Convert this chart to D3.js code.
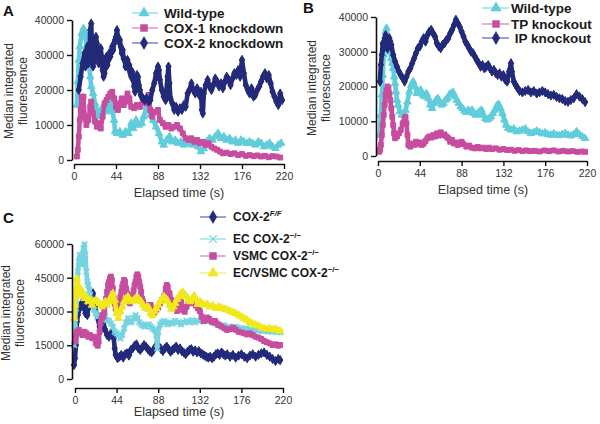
<!DOCTYPE html>
<html><head><meta charset="utf-8">
<script src="https://cdn.jsdelivr.net/npm/d3@7"></script>
<style>
html,body{margin:0;padding:0;background:#fff;}
svg{display:block;font-family:"Liberation Sans",Arial,sans-serif;}
</style></head><body>
<svg id="c" width="600" height="424"></svg>
<script>
// ---------------- DATA ----------------
const xTicks = [0, 44, 88, 132, 176, 220];
const yTicksAB = [0, 10000, 20000, 30000, 40000];
const yTicksC = [0, 15000, 30000, 45000, 60000];
const legendA = ["Wild-type", "COX-1 knockdown", "COX-2 knockdown"];
const legendB = ["Wild-type", "TP knockout", " IP knockout"];
const legendC = ["COX-2", "EC COX-2", "VSMC COX-2", "EC/VSMC COX-2"];
const legendCSup = ["F/F", "\u2212/\u2212", "\u2212/\u2212", "\u2212/\u2212"];

// Panel A: [time (s), median integrated fluorescence]
const aWildType = [[3,15700],[4,22400],[5,28600],[6,32400],[8,36200],[10,37600],[11,35200],[12,36200],[13,32400],[14,28600],[15,30500],[16,26700],[17,23800],[18,21000],[20,19000],[22,16200],[24,14300],[26,12400],[28,13300],[30,15200],[32,14300],[34,16200],[36,13800],[38,17100],[40,14300],[42,11400],[43,8100],[45,7600],[48,8100],[51,7100],[54,8100],[57,7600],[60,10500],[62,9000],[65,11400],[68,10000],[71,10500],[73,12400],[76,15200],[78,14300],[80,12900],[83,11400],[86,9500],[89,7600],[92,5200],[94,4300],[97,5700],[100,6700],[103,5200],[106,5700],[109,4800],[112,5200],[115,4300],[118,5200],[121,4800],[124,4300],[127,5200],[130,3800],[133,2400],[136,3300],[139,5200],[142,6200],[145,5700],[148,6700],[151,7600],[154,6200],[157,6700],[160,5700],[163,6200],[166,5200],[169,5700],[172,4800],[175,5700],[178,5200],[181,4800],[184,5200],[187,4800],[190,4300],[193,5200],[196,4800],[199,3800],[202,4300],[205,4800],[208,3800],[211,3300],[214,4300],[217,4800]];
const aCox1 = [[3,1000],[4,2900],[5,6700],[6,11400],[7,14300],[8,18100],[9,14300],[10,18100],[11,12400],[13,10000],[15,11400],[17,15200],[18,16700],[20,13300],[22,11000],[24,9500],[26,10500],[28,9000],[30,12400],[32,16200],[34,17100],[36,18100],[38,19000],[40,19500],[42,17600],[44,15200],[46,14300],[48,16200],[50,17600],[52,15700],[54,16700],[56,19000],[58,17600],[60,15200],[63,14800],[66,15700],[69,15200],[72,17100],[75,16200],[78,18600],[80,14300],[82,12400],[85,13800],[88,14300],[90,11400],[93,10500],[96,9500],[99,10000],[102,9000],[105,9500],[108,10000],[111,9000],[114,7600],[117,6200],[120,5700],[123,6200],[126,5200],[129,5700],[132,4800],[135,5200],[138,4300],[141,4800],[144,3800],[147,3300],[150,2900],[153,2400],[156,1900],[160,2100],[164,1700],[168,1900],[172,1400],[176,1700],[180,1200],[184,1400],[188,1100],[192,1300],[196,1000],[200,1200],[204,800],[208,1100],[212,1000],[216,700]];
const aCox2 = [[5,20000],[7,23800],[9,27600],[11,30500],[12,26700],[13,28600],[14,32400],[15,27600],[16,29500],[17,37100],[18,39000],[19,31400],[20,26700],[21,28600],[22,32400],[23,35200],[24,33300],[25,29500],[26,27600],[27,30500],[28,31900],[29,29500],[30,25700],[31,23800],[32,24800],[33,27600],[34,29500],[35,27100],[36,28600],[37,30500],[38,29500],[39,31000],[40,32400],[41,31400],[42,33300],[43,34300],[44,35200],[45,37100],[46,35200],[47,33800],[48,34300],[49,32400],[50,30500],[51,31400],[52,29000],[53,28600],[54,26700],[55,27600],[56,28600],[57,26200],[58,27100],[59,24800],[60,23800],[61,25200],[62,22900],[63,21000],[64,19500],[65,22400],[66,24300],[67,23800],[68,21400],[69,20000],[70,18600],[71,18100],[72,17600],[74,17100],[76,17600],[78,16700],[80,17100],[82,20000],[84,21900],[86,24800],[88,26700],[89,25700],[90,22900],[92,20000],[94,18100],[96,17100],[98,23800],[99,26700],[100,21900],[101,17600],[103,16200],[105,14300],[107,15200],[109,13800],[111,14800],[113,14300],[115,15700],[117,15200],[119,19000],[121,20000],[123,21900],[125,20000],[127,19000],[129,20500],[131,18600],[133,19500],[134,14300],[135,13300],[136,19000],[138,21400],[140,22900],[142,21000],[144,20000],[146,21400],[148,23300],[150,22400],[152,21000],[154,21900],[156,20500],[158,22400],[160,23800],[162,22900],[164,21400],[166,23300],[168,24800],[170,24300],[172,25700],[174,23800],[176,28600],[178,24800],[180,21400],[182,20000],[184,19000],[186,20500],[188,18100],[190,18600],[192,20000],[194,21000],[196,22400],[198,23800],[200,24800],[202,23300],[204,24300],[206,21900],[208,19500],[210,18100],[212,16700],[214,15700],[216,19000],[218,17100]];

// Panel B
const bWildType = [[2,6000],[3,11800],[4,17600],[5,23300],[6,29100],[7,32900],[8,35800],[9,36800],[10,33900],[11,32000],[12,32900],[13,30000],[14,28100],[15,26700],[16,25200],[17,22800],[18,20900],[19,18500],[20,16100],[21,14700],[23,12800],[25,11800],[27,12300],[29,13200],[31,15600],[33,18500],[35,20400],[37,21400],[39,20000],[41,18000],[43,18500],[45,19000],[47,17600],[49,17100],[51,18000],[53,16600],[55,14700],[57,13700],[59,15200],[61,16100],[63,16600],[65,15600],[67,14700],[69,15200],[71,16100],[73,16600],[75,17600],[77,18000],[79,18300],[81,17100],[83,16100],[85,15200],[87,14200],[89,13700],[91,13000],[93,12600],[95,13200],[97,12800],[99,13200],[101,12300],[103,11800],[105,12300],[107,12800],[109,13200],[111,11800],[113,10800],[115,10400],[117,10800],[119,11300],[121,12300],[123,13200],[125,14400],[127,14900],[129,13700],[131,12300],[133,10400],[135,8900],[137,8000],[140,7500],[143,7800],[146,7000],[149,7200],[152,7500],[155,7800],[158,7000],[161,6500],[164,6800],[167,7200],[170,6800],[173,6400],[176,6700],[179,6200],[182,6000],[185,6400],[188,6000],[191,5900],[194,6200],[197,6500],[200,6000],[203,5800],[206,6200],[209,7000],[212,6200],[215,5600],[218,5100]];
const bTPKnockout = [[1,1200],[2,1700],[3,3200],[4,6000],[5,8900],[6,11800],[7,14700],[8,17600],[9,19000],[10,20000],[11,19500],[12,18000],[13,16100],[14,13700],[15,11300],[16,8900],[17,6500],[18,5100],[20,5600],[22,6500],[24,7500],[26,9400],[28,10800],[29,11300],[30,9400],[31,6000],[32,3200],[34,2700],[36,3600],[38,3200],[40,4100],[42,3400],[44,3900],[46,3200],[48,3600],[50,4300],[52,5100],[54,5600],[56,5300],[58,6000],[60,5600],[62,6500],[64,5900],[66,6800],[68,6000],[70,6200],[72,5600],[74,5100],[76,4100],[78,4600],[80,3600],[82,3900],[84,3200],[86,3600],[88,4100],[90,3400],[93,2700],[96,3000],[99,2400],[102,2200],[105,2600],[108,2200],[111,2400],[114,2000],[117,2400],[120,2000],[124,2200],[128,1800],[132,2000],[136,1700],[140,1800],[144,1500],[148,1700],[152,1400],[156,1600],[160,1400],[165,1500],[170,1300],[175,1600],[180,1400],[185,1600],[190,1300],[195,1500],[200,1300],[205,1400],[210,1200],[215,1300],[218,1200]];
const bIPKnockout = [[2,21400],[3,26200],[4,29100],[5,32400],[6,30900],[7,33900],[8,34800],[9,32400],[10,30900],[11,32000],[12,33900],[13,32900],[14,32000],[16,29100],[18,27200],[20,25700],[22,24300],[24,23300],[26,22400],[28,21400],[30,22800],[32,24300],[34,25200],[36,26700],[38,28100],[40,29600],[42,31000],[44,31500],[46,32900],[48,33900],[50,32900],[52,34800],[54,35800],[56,36300],[58,35300],[60,34400],[62,32400],[64,31500],[66,31000],[68,32000],[70,32400],[72,33400],[74,33900],[76,35300],[78,36300],[80,37700],[82,39200],[84,38200],[86,37200],[88,35800],[90,34400],[92,32900],[94,32000],[96,31000],[98,30000],[100,29600],[102,28600],[104,27600],[106,26700],[108,25700],[110,26200],[112,25200],[114,25700],[116,26200],[118,25200],[120,24300],[122,24800],[124,23800],[126,23300],[128,23800],[130,22800],[132,23300],[134,21900],[136,21400],[138,24300],[140,26700],[141,24300],[143,21400],[145,20400],[147,19500],[149,18700],[152,18300],[155,18700],[158,19000],[161,18300],[164,18700],[167,18000],[170,18300],[173,18700],[176,18300],[179,17800],[182,17400],[185,17600],[188,17000],[191,16600],[194,16400],[197,15800],[200,15600],[203,16100],[206,16600],[209,17800],[212,17100],[215,16400],[218,15500]];

// Panel C
const cCox2FF = [[-1,6200],[0,9200],[1,15100],[2,25500],[3,28400],[5,31400],[7,33600],[8,34400],[9,32100],[10,31400],[11,29200],[12,30700],[13,28400],[14,31400],[15,33600],[16,32900],[17,35100],[18,35800],[19,38100],[20,34400],[21,32100],[22,29900],[24,27000],[26,23300],[28,22500],[30,24700],[32,21800],[34,19500],[36,18800],[38,20300],[40,21000],[41,18100],[42,13600],[43,10700],[45,9200],[47,9900],[49,10700],[51,9500],[53,11000],[55,11400],[57,10400],[59,12900],[61,13600],[63,14800],[65,15400],[67,13600],[69,12900],[71,13900],[73,15100],[75,14400],[77,13300],[79,12400],[81,11800],[83,12900],[85,14400],[87,15400],[89,14400],[91,13300],[93,12400],[95,13600],[97,14400],[99,13300],[101,12100],[103,12900],[105,13600],[107,14400],[109,12900],[111,13600],[113,12400],[115,11800],[117,11000],[119,12100],[121,12900],[123,13300],[125,12100],[127,12700],[129,11800],[131,12400],[133,11400],[135,11000],[137,10400],[139,9900],[141,9500],[143,9900],[145,9200],[147,9900],[149,11000],[151,11400],[153,10700],[155,11800],[157,11000],[159,10400],[161,11000],[164,9900],[167,10700],[170,9500],[173,10400],[176,11000],[179,9900],[182,9200],[185,10400],[188,11000],[191,9900],[194,10700],[197,11400],[200,11800],[203,10700],[206,9900],[209,8900],[212,8000],[215,8900],[217,8400]];
const cEcCox2KO = [[-1,15100],[0,22500],[1,31400],[2,38800],[3,47700],[4,52100],[5,55100],[6,53600],[7,50700],[8,55100],[9,58100],[10,59800],[11,55100],[12,47700],[13,43200],[14,41800],[15,39500],[16,37300],[17,35100],[18,32900],[20,30700],[22,29200],[24,27700],[26,28400],[28,26700],[30,27000],[32,27700],[34,26200],[36,25800],[38,24700],[40,23300],[42,21000],[44,20300],[46,19500],[48,18100],[50,19500],[52,22500],[54,25200],[56,27000],[58,25200],[60,25500],[62,27000],[64,28400],[66,27000],[68,25200],[70,24300],[72,23700],[74,23300],[76,24000],[78,24300],[80,23300],[82,22500],[84,21800],[86,19500],[87,13600],[88,21000],[90,24300],[92,25200],[94,25800],[96,25200],[98,24300],[100,25200],[103,24600],[106,25800],[109,25200],[112,24300],[115,25200],[118,25800],[121,25200],[124,26100],[127,25200],[130,25800],[133,26200],[136,25500],[139,26200],[142,25800],[145,25200],[148,24600],[151,24000],[154,23700],[157,24000],[160,23100],[163,23400],[166,22800],[169,23300],[172,22800],[175,22500],[178,22200],[181,22500],[184,21900],[187,21600],[190,21900],[193,21500],[196,21600],[199,21300],[202,21600],[205,21200],[208,21000],[211,21300],[214,20900],[217,20700]];
const cVsmcCox2KO = [[0,16600],[1,19500],[2,21000],[4,21800],[6,20300],[8,19500],[10,21000],[12,20300],[14,18800],[16,19500],[18,18100],[20,18800],[22,15800],[24,14800],[25,16600],[26,21000],[27,24700],[28,27000],[29,28400],[30,27700],[31,29900],[32,32900],[33,35800],[34,38800],[35,41800],[36,43200],[37,44700],[38,45500],[39,44000],[40,40300],[41,35800],[42,33600],[43,31400],[44,30700],[45,32100],[46,33600],[47,34400],[48,36600],[49,38800],[50,41000],[51,42500],[52,44000],[53,43200],[54,40300],[55,38100],[56,35800],[57,34400],[58,33600],[59,35100],[60,35800],[61,37300],[62,39500],[63,41800],[64,43200],[65,45500],[66,46500],[67,45500],[68,43200],[69,41000],[70,38800],[71,35800],[72,34400],[74,32900],[76,31400],[78,32600],[80,32900],[82,30700],[84,29600],[86,30700],[88,31700],[90,33600],[92,35100],[94,36600],[96,40300],[97,41800],[98,41000],[100,38100],[102,35100],[104,32900],[106,31400],[108,30200],[110,32900],[112,34400],[114,30700],[116,29900],[118,32100],[120,33600],[122,35100],[124,34700],[126,33600],[128,32600],[130,31400],[132,30200],[134,27700],[136,25800],[138,26200],[140,27300],[142,26700],[144,25800],[146,25200],[148,25800],[150,24700],[152,24000],[155,23300],[158,22500],[161,21800],[164,22200],[167,22800],[170,21900],[173,21000],[176,20700],[179,20300],[182,19800],[185,20300],[188,19500],[191,18800],[194,18400],[197,17800],[200,16900],[203,16300],[206,15800],[209,15100],[212,15400],[215,14800],[217,15100]];
const cEcVsmcCox2KO = [[-1,27000],[0,32900],[1,40300],[2,44700],[3,41800],[4,38100],[5,37300],[6,38800],[7,39500],[8,38100],[10,35800],[12,36600],[14,34400],[16,35100],[18,32900],[20,34400],[22,35100],[24,34400],[26,33600],[28,32100],[30,33600],[32,34400],[34,32900],[36,34400],[38,36600],[40,38100],[42,35100],[44,29200],[46,27000],[48,29900],[50,32100],[52,34400],[54,35800],[56,36600],[58,35100],[60,34400],[62,35100],[64,35800],[66,36100],[68,35100],[70,34400],[72,32900],[74,31400],[76,32100],[78,31700],[80,29200],[82,28100],[84,30200],[86,31400],[88,32900],[90,34400],[92,35500],[94,36600],[96,35800],[98,34700],[100,32900],[102,31100],[104,32100],[106,33600],[108,35500],[110,36600],[112,38100],[114,38500],[116,37600],[118,36600],[120,35100],[122,34400],[124,35500],[126,37000],[128,35500],[130,33200],[132,34400],[134,33600],[137,32900],[140,33200],[143,32100],[146,32600],[149,31400],[152,32100],[155,31700],[158,31100],[161,30700],[164,30200],[167,29600],[170,29200],[173,28400],[176,27700],[179,27000],[182,26200],[185,25200],[188,24700],[191,24000],[194,23700],[197,22800],[200,22500],[203,22200],[206,22500],[209,21900],[212,22200],[215,21600],[217,21300]];

// ---------------- DRAWING ----------------
const FONT = '"Liberation Sans", Arial, sans-serif';
const svg = d3.select("#c");
const C = {
  navy: "#232a7a", magenta: "#c74d9f", cyan: "#60cddb", ecCyan: "#76d4e1", yellow: "#f1e81e"
};
const LC = {
  navy: "#7f82c2", magenta: "#e296c8", cyan: "#9de0e9", ecCyan: "#a7e3ec", yellow: "#f3ee86"
};
const symX = d3.symbolX || {draw(ctx, size){const r=Math.sqrt(size)/2; ctx.moveTo(-r,-r);ctx.lineTo(r,r);ctx.moveTo(r,-r);ctx.lineTo(-r,r);}};

function panel(cfg) {
  const g = svg.append("g");
  const x = d3.scaleLinear().domain([0, 220]).range(cfg.xr);
  const y = d3.scaleLinear().domain([0, cfg.ymax]).range(cfg.yr);

  // series
  cfg.series.forEach(s => {
    const line = d3.line().x(d => x(d[0])).y(d => y(d[1]));
    g.append("path").datum(s.data).attr("d", line)
      .attr("fill", "none").attr("stroke", s.color).attr("stroke-width", 4.6)
      .attr("stroke-linejoin", "round").attr("stroke-linecap", "round");
    const isX = s.sym === symX;
    const sym = d3.symbol().type(s.sym).size(isX ? 22 : 24);
    g.append("g").selectAll("path").data(s.data).join("path")
      .attr("transform", d => `translate(${x(d[0])},${y(d[1])})`)
      .attr("d", sym)
      .attr("fill", isX ? "none" : s.color)
      .attr("stroke", s.color).attr("stroke-width", isX ? 1.8 : 1);
  });

  // axes
  const xa = g.append("g").attr("transform", `translate(0,${cfg.xAxisY})`)
    .call(d3.axisBottom(x).tickValues(xTicks).tickSize(5).tickSizeOuter(0).tickPadding(4).tickFormat(d3.format("d")));
  const ya = g.append("g").attr("transform", `translate(${cfg.yAxisX},0)`)
    .call(d3.axisLeft(y).tickValues(cfg.yTicks).tickSize(5).tickSizeOuter(0).tickPadding(3).tickFormat(d3.format("d")));
  [xa, ya].forEach(a => {
    a.select(".domain").attr("stroke", "#111").attr("stroke-width", 1.6);
    a.selectAll(".tick line").attr("stroke", "#111").attr("stroke-width", 1.4);
    a.selectAll(".tick text").attr("font-family", FONT).attr("font-size", 10.5).attr("fill", "#333");
  });

  // titles
  g.append("text").attr("x", cfg.xTitle[0]).attr("y", cfg.xTitle[1]).attr("text-anchor", "middle")
    .attr("font-family", FONT).attr("font-size", 12.5).attr("fill", "#333").text("Elapsed time (s)");
  const yt = g.append("text").attr("transform", `translate(${cfg.yTitle[0]},${cfg.yTitle[1]}) rotate(-90)`)
    .attr("text-anchor", "middle").attr("font-family", FONT).attr("font-size", 12).attr("fill", "#333");
  yt.append("tspan").attr("x", 0).attr("dy", 0).text("Median integrated");
  yt.append("tspan").attr("x", 0).attr("dy", 14).text("fluorescence");

  g.append("text").attr("x", cfg.letter[0]).attr("y", cfg.letter[1]).attr("font-family", FONT)
    .attr("font-weight", "bold").attr("font-size", 15).attr("fill", "#111").text(cfg.letterText);

  // legend
  cfg.legend.forEach((lab, i) => {
    const s = cfg.series[i];
    const ly = cfg.legY[i];
    const isX = s.sym === symX;
    g.append("line").attr("x1", cfg.legX[0]).attr("x2", cfg.legX[2]).attr("y1", ly).attr("y2", ly)
      .attr("stroke", s.lcolor).attr("stroke-width", 1.5);
    g.append("path").attr("transform", `translate(${cfg.legX[1]},${ly})`)
      .attr("d", d3.symbol().type(s.sym).size(isX ? 40 : 48))
      .attr("fill", isX ? "none" : s.color).attr("stroke", s.color).attr("stroke-width", isX ? 1.2 : 0.5);
    const t = g.append("text").attr("x", cfg.legX[3]).attr("y", ly + cfg.legFont * 0.36)
      .attr("font-family", FONT).attr("font-weight", "bold").attr("font-size", cfg.legFont).attr("fill", "#1a1a1a")
      .attr("xml:space", "preserve");
    t.append("tspan").text(lab);
    if (cfg.sup) {
      t.append("tspan").attr("dy", -5).attr("font-size", 8)
        .attr("font-style", i === 0 ? "italic" : "normal").text(cfg.sup[i]);
    }
  });
}

panel({
  xr: [74, 284], yr: [160, 20], ymax: 40000, yTicks: yTicksAB, xAxisY: 164, yAxisX: 72,
  xTitle: [179, 197], yTitle: [13, 91], letter: [3, 16], letterText: "A",
  series: [
    {data: aWildType, color: C.cyan, lcolor: LC.cyan, sym: d3.symbolTriangle},
    {data: aCox1, color: C.magenta, lcolor: LC.magenta, sym: d3.symbolSquare},
    {data: aCox2, color: C.navy, lcolor: LC.navy, sym: d3.symbolDiamond}
  ],
  legend: legendA, legY: [13, 28, 43], legX: [132, 144, 158, 164], legFont: 13.5
});

panel({
  xr: [378, 587], yr: [156, 17], ymax: 40000, yTicks: yTicksAB, xAxisY: 161, yAxisX: 376,
  xTitle: [483, 194], yTitle: [316, 88], letter: [303, 13], letterText: "B",
  series: [
    {data: bWildType, color: C.cyan, lcolor: LC.cyan, sym: d3.symbolTriangle},
    {data: bTPKnockout, color: C.magenta, lcolor: LC.magenta, sym: d3.symbolSquare},
    {data: bIPKnockout, color: C.navy, lcolor: LC.navy, sym: d3.symbolDiamond}
  ],
  legend: legendB, legY: [8, 24, 38], legX: [482, 496, 509, 511], legFont: 13.5
});

panel({
  xr: [75, 283], yr: [379, 244], ymax: 60000, yTicks: yTicksC, xAxisY: 388, yAxisX: 72,
  xTitle: [179, 416], yTitle: [10, 313], letter: [3, 223], letterText: "C",
  series: [
    {data: cCox2FF, color: C.navy, lcolor: LC.navy, sym: d3.symbolDiamond},
    {data: cEcCox2KO, color: C.ecCyan, lcolor: LC.ecCyan, sym: symX},
    {data: cVsmcCox2KO, color: C.magenta, lcolor: LC.magenta, sym: d3.symbolSquare},
    {data: cEcVsmcCox2KO, color: C.yellow, lcolor: LC.yellow, sym: d3.symbolTriangle}
  ],
  legend: legendC, sup: legendCSup, legY: [217, 239, 256, 273], legX: [200, 213, 226, 233], legFont: 12
});
</script>
</body></html>
